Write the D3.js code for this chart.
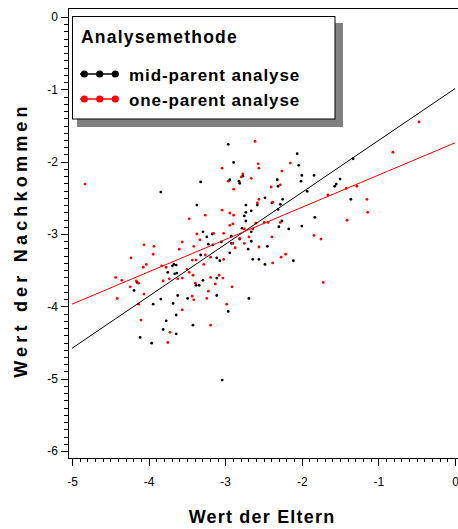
<!DOCTYPE html>
<html>
<head>
<meta charset="utf-8">
<script src="https://cdn.jsdelivr.net/npm/d3@7"></script>
<style>
  body { margin: 0; background: #fff; }
  text { font-family: "Liberation Sans", Arial, Helvetica, sans-serif; }
</style>
</head>
<body>
<svg id="chart" width="458" height="529"></svg>
<script>
// mid-parent analyse (black points)
const midX = [-3.84,-2.96,-2.89,-3.32,-2.77,-2.82,-2.81,-2.94,-3.37,-2.73,-2.58,-2.73,-2.66,-2.75,-2.73,-2.78,-2.66,-3.29,-3.17,-3.24,-2.92,-2.81,-2.66,-3.16,-3.22,-2.92,-2.70,
  -2.06,-2.04,-2.00,-1.84,-2.01,-1.33,-2.32,-2.31,-1.93,-1.57,-1.55,-1.50,-1.36,-2.48,-2.39,-2.28,-2.25,-2.31,-2.26,-1.83,-2.30,-2.17,-2.00,-2.45,
  -4.19,-4.15,-4.11,-3.96,-3.81,-3.77,-3.64,-3.64,-3.84,-3.94,-3.75,-3.67,-3.64,-3.69,-3.66,-3.63,-3.62,-3.68,-3.32,-3.11,-3.07,-2.94,-2.64,-2.56,-2.48,-2.11,
  -3.11,-3.29,-3.38,-3.34,-3.49,-3.11,-2.96,-2.69,-3.42,-3.04,-3.05];
const midY = [-2.42,-1.76,-2.01,-2.28,-2.20,-2.27,-2.30,-2.25,-2.60,-2.60,-2.60,-2.70,-2.68,-2.75,-2.82,-2.92,-2.97,-2.97,-3.00,-3.04,-3.03,-3.07,-3.10,-3.15,-3.14,-3.13,-3.21,
  -1.89,-2.05,-2.19,-2.19,-2.27,-1.96,-2.25,-2.34,-2.41,-2.34,-2.31,-2.24,-2.52,-2.50,-2.57,-2.59,-2.52,-2.66,-2.82,-2.77,-2.90,-2.93,-2.89,-3.17,
  -3.78,-3.67,-4.43,-4.51,-4.32,-4.20,-4.12,-4.38,-3.90,-3.97,-3.53,-3.42,-3.43,-3.44,-3.55,-3.54,-3.85,-3.96,-3.29,-3.33,-3.37,-3.26,-3.35,-3.35,-3.42,-3.37,
  -3.61,-3.64,-3.71,-3.71,-3.89,-3.85,-4.07,-3.89,-4.26,-5.02,-3.11];

// one-parent analyse (red points)
const oneX = [-4.83,-2.61,-3.04,-2.77,-2.79,-2.96,-2.66,-2.89,-2.57,-2.56,-3.04,-3.26,-3.47,-2.94,-2.89,-2.56,-2.58,-2.90,-2.94,-2.75,-2.60,-2.64,-3.37,-3.15,-3.02,-3.33,-2.69,
  -3.56,-4.06,-3.93,-3.60,-3.41,-2.56,-2.15,-2.26,-0.81,-2.28,-2.40,-1.42,-1.28,-1.66,-1.15,-1.14,-1.41,-2.38,-2.49,-2.44,-2.28,-1.84,-1.75,-2.39,-0.47,-1.72,
  -2.27,-2.21,-2.38,-2.81,-2.75,-2.90,-2.87,-3.02,-3.03,-2.91,-2.98,-3.19,-4.23,-4.43,-4.35,-4.24,-4.41,-4.16,-4.13,-4.10,-3.75,-3.72,-3.56,-3.94,-4.07,-4.03,
  -3.83,-3.77,-3.62,-3.56,-3.81,-3.73,-4.06,-3.50,-3.47,-3.42,-3.43,-3.38,-3.26,-3.19,-3.28,-3.39,-3.19,-3.08,-3.13,-3.22,-3.43,-3.41,-3.24,-4.13];
const oneY = [-2.31,-1.72,-2.09,-2.17,-2.21,-2.27,-2.23,-2.38,-2.03,-2.09,-2.67,-2.74,-2.79,-2.71,-2.74,-2.52,-2.57,-2.86,-2.88,-2.93,-2.85,-2.93,-3.00,-2.99,-2.99,-3.08,-3.04,
  -3.11,-3.15,-3.17,-3.21,-3.17,-3.18,-2.02,-2.13,-1.87,-2.32,-2.35,-2.37,-2.34,-2.46,-2.52,-2.70,-2.81,-2.56,-2.84,-2.84,-2.84,-3.02,-3.07,-3.04,-1.45,-3.67,
  -3.32,-3.28,-3.40,-3.06,-3.13,-3.13,-3.19,-3.35,-3.61,-3.73,-3.97,-4.26,-3.33,-3.60,-3.64,-3.73,-3.89,-3.65,-3.97,-4.19,-4.50,-4.36,-4.05,-3.28,-3.46,-3.42,
  -3.44,-3.46,-3.62,-3.61,-3.65,-3.62,-3.83,-3.49,-3.53,-3.57,-3.36,-3.36,-3.29,-3.32,-3.42,-3.68,-3.60,-3.57,-3.69,-3.79,-3.86,-3.91,-3.89,-3.68];

// fitted regression lines, evaluated at both ends of the x range
const fitX = [-5, 0];
const midFit = [-4.58, -0.99];
const oneFit = [-3.97, -1.74];

const xTicks = [-5, -4, -3, -2, -1, 0];
const yTicks = [0, -1, -2, -3, -4, -5, -6];

const legendTitle = "Analysemethode";
const seriesNames = ["mid-parent analyse", "one-parent analyse"];
const seriesColors = ["#000000", "#ff0000"];
const xTitle = "Wert der Eltern";
const yTitle = "Wert der Nachkommen";

const svg = d3.select("#chart");
const x = d3.scaleLinear().domain([-5, 0]).range([72, 455]);
const y = d3.scaleLinear().domain([0, -6]).range([17, 451]);

const frameLeft = 68, frameTop = 8, frameBottom = 458, frameRight = 460;

// plot frame
svg.append("path")
  .attr("d", `M${frameRight},${frameTop}H${frameLeft}V${frameBottom}H${frameRight}`)
  .attr("fill", "none").attr("stroke", "#000").attr("stroke-width", 1)
  .attr("shape-rendering", "crispEdges");

// minor tick values every 0.1
const minorX = d3.range(-50, 1).map(i => i / 10).filter(v => Math.abs(v - Math.round(v)) > 1e-9);
const minorY = d3.range(-60, 1).map(i => i / 10).filter(v => Math.abs(v - Math.round(v)) > 1e-9);

function styleAxis(g) {
  g.select(".domain").remove();
  g.selectAll("line").attr("stroke", "#000").attr("shape-rendering", "crispEdges");
  g.selectAll("text").attr("font-size", 12).attr("fill", "#000")
    .style("font-family", '"Liberation Sans", Arial, sans-serif');
}

svg.append("g").attr("transform", `translate(0,${frameBottom})`)
  .call(d3.axisBottom(x).tickValues(minorX).tickSize(4).tickFormat(""))
  .call(styleAxis);
svg.append("g").attr("transform", `translate(0,${frameBottom})`)
  .call(d3.axisBottom(x).tickValues(xTicks).tickSize(8).tickPadding(11).tickFormat(d => String(d)))
  .call(styleAxis);

svg.append("g").attr("transform", `translate(${frameLeft},0)`)
  .call(d3.axisLeft(y).tickValues(minorY).tickSize(4).tickFormat(""))
  .call(styleAxis);
svg.append("g").attr("transform", `translate(${frameLeft},0)`)
  .call(d3.axisLeft(y).tickValues(yTicks).tickSize(7).tickPadding(3).tickFormat(d => String(d)))
  .call(styleAxis);

// points
const series = [
  { xs: midX, ys: midY, color: seriesColors[0] },
  { xs: oneX, ys: oneY, color: seriesColors[1] }
];
series.forEach(s => {
  svg.append("g").selectAll("circle")
    .data(s.xs.map((v, i) => [v, s.ys[i]]))
    .join("circle")
    .attr("cx", d => x(d[0]))
    .attr("cy", d => y(d[1]))
    .attr("r", 1.4)
    .attr("fill", s.color);
});

// regression lines
const line = d3.line().x(d => x(d[0])).y(d => y(d[1]));
[[midFit, seriesColors[0]], [oneFit, seriesColors[1]]].forEach(([fit, color]) => {
  svg.append("path")
    .datum(fitX.map((v, i) => [v, fit[i]]))
    .attr("d", line)
    .attr("fill", "none")
    .attr("stroke", color)
    .attr("stroke-width", 1);
});

// legend with drop shadow
const lg = svg.append("g");
lg.append("rect").attr("x", 77).attr("y", 23).attr("width", 266).attr("height", 104).attr("fill", "#808080");
lg.append("rect").attr("x", 72.5).attr("y", 16.5).attr("width", 262.5).attr("height", 102.5)
  .attr("fill", "#fff").attr("stroke", "#000").attr("stroke-width", 1);
lg.append("text").attr("x", 81).attr("y", 42.5)
  .attr("font-size", 17.5).attr("font-weight", "bold").attr("letter-spacing", 1.2)
  .text(legendTitle);
seriesNames.forEach((name, i) => {
  const cy = 74 + i * 25;
  lg.append("line").attr("x1", 80).attr("x2", 117).attr("y1", cy).attr("y2", cy)
    .attr("stroke", seriesColors[i]).attr("stroke-width", 1.5);
  [84.3, 99.7, 115.3].forEach(cx => {
    lg.append("circle").attr("cx", cx).attr("cy", cy).attr("r", 3.6).attr("fill", seriesColors[i]);
  });
  lg.append("text").attr("x", 129).attr("y", cy + 7)
    .attr("font-size", 17).attr("font-weight", "bold").attr("letter-spacing", 0.9)
    .text(name);
});

// axis titles
svg.append("text").attr("x", 262).attr("y", 523)
  .attr("text-anchor", "middle").attr("font-size", 18).attr("font-weight", "bold")
  .attr("letter-spacing", 1.2).text(xTitle);
svg.append("text").attr("transform", "translate(27,240) rotate(-90)")
  .attr("text-anchor", "middle").attr("font-size", 18).attr("font-weight", "bold")
  .attr("letter-spacing", 4.2).text(yTitle);
</script>
</body>
</html>
